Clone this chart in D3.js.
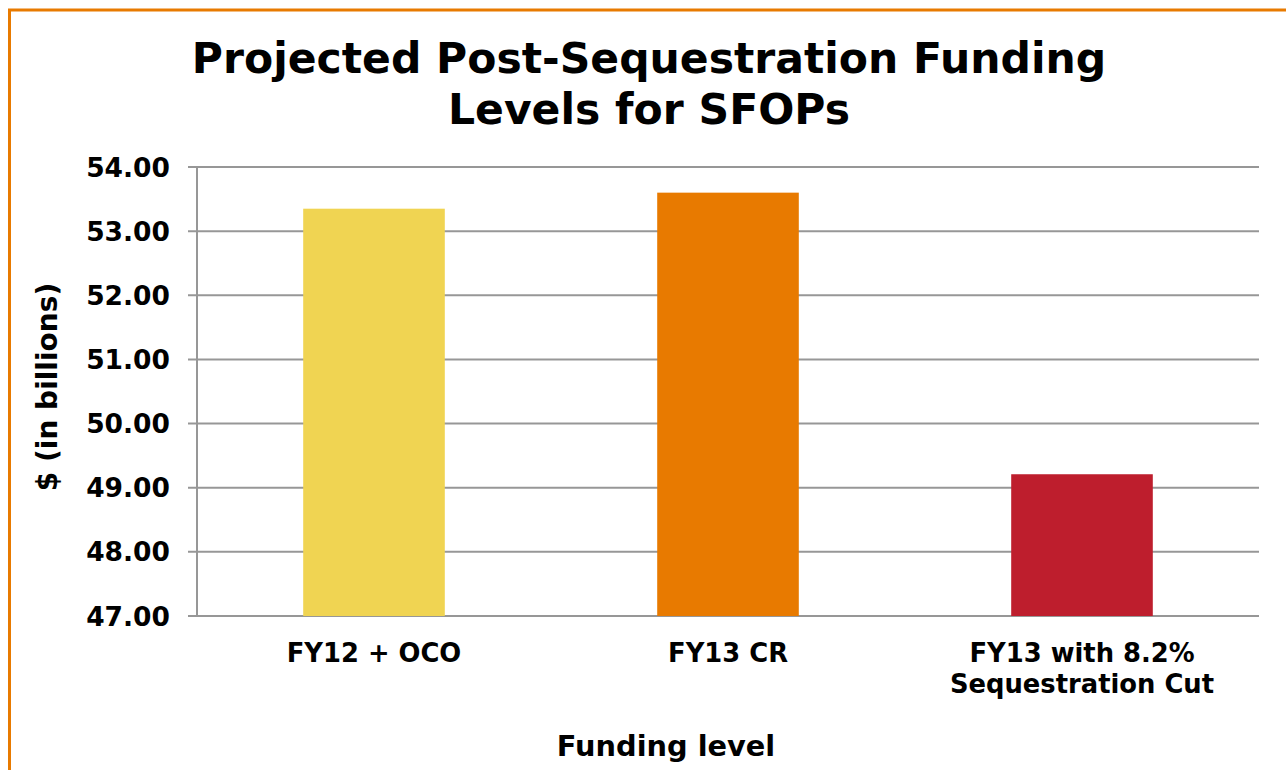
<!DOCTYPE html>
<html>
<head>
<meta charset="utf-8">
<script src="https://cdn.jsdelivr.net/npm/d3@7"></script>
<style>
  html, body { margin: 0; padding: 0; background: #fff; }
  text { font-family: "DejaVu Sans", Verdana, sans-serif; font-weight: bold; fill: #000; }
</style>
</head>
<body>
<div id="chart"></div>
<script>
/* chart values */
const categories = [["FY12 + OCO"], ["FY13 CR"], ["FY13 with 8.2%", "Sequestration Cut"]];
const values = [53.35, 53.6, 49.21];
const barColors = ["#F0D452", "#E87A00", "#BE1E2D"];
const yTicks = [47, 48, 49, 50, 51, 52, 53, 54];
const titleLines = ["Projected Post-Sequestration Funding", "Levels for SFOPs"];

const W = 1286, H = 770;
const margin = {top: 167, right: 27, bottom: 154, left: 197};

const svg = d3.select("#chart").append("svg")
  .attr("width", W)
  .attr("height", H);

// orange frame, runs off the right and bottom edges
svg.append("rect")
  .attr("x", 9.5).attr("y", 10)
  .attr("width", W + 20).attr("height", H + 20)
  .attr("fill", "#fff")
  .attr("stroke", "#E87A00")
  .attr("stroke-width", 3);

const x = d3.scaleBand()
  .domain(d3.range(categories.length))
  .range([margin.left, W - margin.right])
  .paddingInner(0.6)
  .paddingOuter(0.3);

const y = d3.scaleLinear()
  .domain([47, 54])
  .range([H - margin.bottom, margin.top]);

// gridlines
svg.append("g")
  .selectAll("line")
  .data(yTicks)
  .enter()
  .append("line")
  .attr("x1", margin.left - 9)
  .attr("x2", W - margin.right)
  .attr("y1", d => y(d))
  .attr("y2", d => y(d))
  .attr("stroke", "#979797")
  .attr("stroke-width", 2);

// y axis line
svg.append("line")
  .attr("x1", margin.left).attr("x2", margin.left)
  .attr("y1", y(54)).attr("y2", y(47))
  .attr("stroke", "#979797")
  .attr("stroke-width", 2);

// bars
svg.append("g")
  .selectAll("rect")
  .data(values)
  .enter()
  .append("rect")
  .attr("x", (d, i) => x(i))
  .attr("width", x.bandwidth())
  .attr("y", d => y(d))
  .attr("height", d => y(47) - y(d))
  .attr("fill", (d, i) => barColors[i]);

// tick labels
svg.append("g")
  .selectAll("text")
  .data(yTicks)
  .enter()
  .append("text")
  .attr("x", margin.left - 27)
  .attr("y", d => y(d))
  .attr("dy", "0.36em")
  .attr("text-anchor", "end")
  .attr("font-size", 26.5)
  .text(d => d3.format(".2f")(d));

// category labels
svg.append("g")
  .selectAll("text")
  .data(categories)
  .enter()
  .append("text")
  .attr("text-anchor", "middle")
  .attr("font-size", 25.8)
  .attr("transform", (d, i) => `translate(${x(i) + x.bandwidth() / 2},${H - margin.bottom + 46})`)
  .each(function(d) {
    d3.select(this).selectAll("tspan")
      .data(d)
      .enter()
      .append("tspan")
      .attr("x", 0)
      .attr("dy", (t, j) => j === 0 ? 0 : 31)
      .text(t => t);
  });

// axis titles
svg.append("text")
  .attr("x", 666)
  .attr("y", 756)
  .attr("text-anchor", "middle")
  .attr("font-size", 28.8)
  .text("Funding level");

svg.append("text")
  .attr("transform", "translate(57,387) rotate(-90)")
  .attr("text-anchor", "middle")
  .attr("font-size", 28)
  .text("$ (in billions)");

// title
svg.append("g")
  .selectAll("text")
  .data(titleLines)
  .enter()
  .append("text")
  .attr("x", 649)
  .attr("y", (d, i) => 73 + i * 51)
  .attr("text-anchor", "middle")
  .attr("font-size", 42.5)
  .text(d => d);
</script>
</body>
</html>
